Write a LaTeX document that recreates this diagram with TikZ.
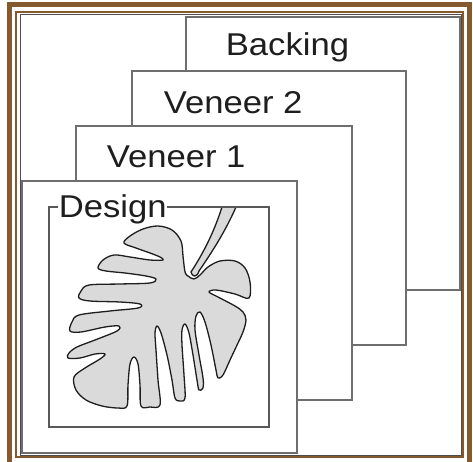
\documentclass[tikz,border=0pt]{standalone}
\usepackage{fontspec}
\setmainfont{Liberation Sans}
\definecolor{frameBrown}{RGB}{133,89,46}
\definecolor{layerLine}{RGB}{110,110,110}
\definecolor{leafFill}{RGB}{218,218,218}
\definecolor{inkDark}{RGB}{30,30,30}
\begin{document}
\begin{tikzpicture}[x=1pt,y=-1pt,
  layer/.style={draw=layerLine,line width=1.3pt,fill=white},
  inner frame/.style={draw=layerLine!80!black,line width=1.8pt},
  tag/.style={anchor=base west,inner sep=0.6pt,text=inkDark,
    font=\fontsize{31.5}{31.5}\selectfont},
  leafshape/.style={draw=inkDark,line width=1.3pt,fill=leafFill,line join=round}]
\useasboundingbox (0,0) rectangle (473,462);
\fill[white] (0,0) rectangle (473,462);

% picture frame
\draw[frameBrown,line width=5pt] (9.5,4.5) rectangle (469,470);
\draw[frameBrown,line width=1.4pt] (16,12) rectangle (463,457);
\draw[layerLine!70!black,line width=0.9pt] (20.5,14) rectangle (461,455);

% stacked sheets, back to front
\draw[layer] (186,17) rectangle (460,290);
\node[tag] (backing) at (225,56) {\scalebox{1.1}[1]{Backing}};
\draw[layer] (132,71) rectangle (406,345);
\node[tag] (veneer2) at (163,114) {\scalebox{1.1}[1]{Veneer 2}};
\draw[layer] (76,126) rectangle (352,400);
\node[tag] (veneer1) at (106,168) {\scalebox{1.1}[1]{Veneer 1}};
\draw[layer] (22,181) rectangle (297,453);

% monstera leaf
\draw[leafshape] plot[smooth cycle,tension=0.55] coordinates {
  (185,272) (183,256) (181,241) (172,230) (158,226) (143,229) (130,236) (124,243)
  (136,248) (150,253) (160,257) (163,260)
  (150,260) (130,257) (114,255) (103,260) (98,268)
  (106,271) (125,273) (146,276) (156,279)
  (150,283) (120,284) (89,285) (81,291) (79,298)
  (90,301) (120,302) (140,304)
  (138,308) (110,311) (79,315) (72,322) (70,331)
  (81,332) (105,327) (119,326)
  (117,331) (95,340) (77,347) (69,353) (68,358)
  (80,358) (95,354) (105,354)
  (100,359) (85,368) (74,377) (76,390) (86,400) (102,406) (118,408) (127,406)
  (128,385) (130,364) (134,357) (138,364) (140,385) (141,406)
  (150,407) (160,405)
  (158,380) (156,350) (155,333) (157,326) (161,333) (167,355) (172,380) (175,398)
  (180,401) (185,398)
  (184,375) (182,345) (182,330) (185,324) (189,333) (193,355) (197,380) (199,390)
  (203,388) (203,378)
  (199,355) (195,330) (196,316) (200,312) (205,322) (211,345) (216,370) (218,378)
  (223,375) (230,360) (238,343) (243,332) (246,320) (243,312)
  (235,306) (218,297) (209,292) (216,290) (235,294) (249,298)
  (250,282) (245,268) (235,261) (220,261) (208,267) (200,275)
  (194,279) (188,276)};
% leaf stalk
\draw[leafshape] (222,207) .. controls (214,232) and (204,252) .. (191,272)
  .. controls (192,277) and (197,278) .. (199,271)
  .. controls (212,252) and (225,232) .. (236,207) -- cycle;

\draw[inner frame] (49,207) rectangle (269,427);
\node[tag,fill=white] (design) at (58,218) {\scalebox{1.1}[1]{Design}};
\end{tikzpicture}
\end{document}
